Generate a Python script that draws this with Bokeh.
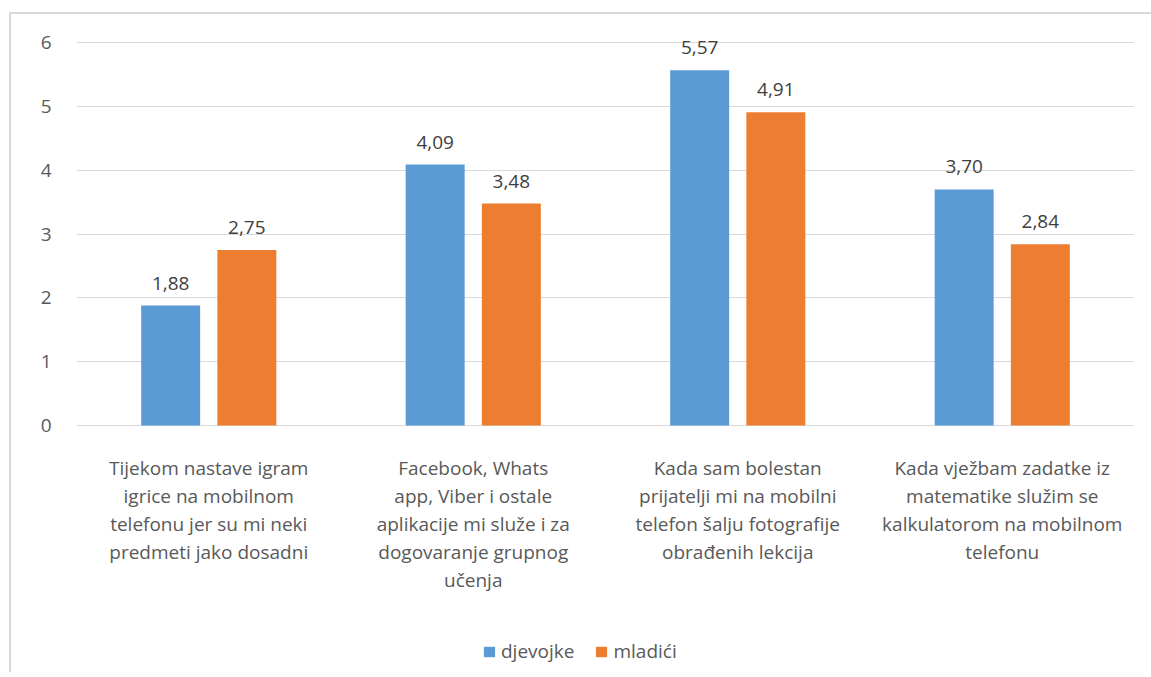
from bokeh.plotting import figure
from bokeh.models import ColumnDataSource, FactorRange, Legend, LegendItem
from bokeh.transform import dodge
from bokeh.core.properties import value
from bokeh.embed import file_html
from bokeh.resources import INLINE

categories = [
    "Tijekom nastave igram\nigrice na mobilnom\ntelefonu jer su mi neki\npredmeti jako dosadni",
    "Facebook, Whats\napp, Viber i ostale\naplikacije mi služe i za\ndogovaranje grupnog\nučenja",
    "Kada sam bolestan\nprijatelji mi na mobilni\ntelefon šalju fotografije\nobrađenih lekcija",
    "Kada vježbam zadatke iz\nmatematike služim se\nkalkulatorom na mobilnom\ntelefonu",
]
djevojke = [1.88, 4.09, 5.57, 3.70]
mladici = [2.75, 3.48, 4.91, 2.84]
series_names = ["djevojke", "mladići"]
y_ticks = [0, 1, 2, 3, 4, 5, 6]

def fmt(v):
    return f"{v:.2f}".replace(".", ",")

src = ColumnDataSource(dict(
    cat=categories,
    zero=[0] * len(categories),
    d=djevojke,
    m=mladici,
    dl=[fmt(v) for v in djevojke],
    ml=[fmt(v) for v in mladici],
))

FONT = "Open Sans"
TXT = "#595959"

p = figure(
    x_range=FactorRange(factors=categories, range_padding=0),
    y_range=(-3.87, 6.16),
    width=1140, height=658,
    frame_width=1058, frame_height=640,
    min_border_left=65, min_border_top=18, min_border_right=17, min_border_bottom=0,
    output_backend="svg", toolbar_location=None,
)
p.styles = {"border-left": "2px solid #d9d9d9", "border-top": "2px solid #d9d9d9",
            "margin-left": "9px", "margin-top": "12px"}
p.outline_line_color = None
p.background_fill_color = "white"

off = 0.144
w = 0.223
r1 = p.vbar(x=dodge("cat", -off, range=p.x_range), top="d", width=w, source=src,
            fill_color="#5B9BD5", line_color=None)
r2 = p.vbar(x=dodge("cat", off, range=p.x_range), top="m", width=w, source=src,
            fill_color="#ED7D31", line_color=None)

p.text(x=dodge("cat", -off, range=p.x_range), y="d", text="dl", source=src,
       text_align="center", text_baseline="bottom", y_offset=-16,
       text_font=value(FONT), text_font_size="19px", text_color="#404040")
p.text(x=dodge("cat", off, range=p.x_range), y="m", text="ml", source=src,
       text_align="center", text_baseline="bottom", y_offset=-16,
       text_font=value(FONT), text_font_size="19px", text_color="#404040")

# category labels below the baseline
p.text(x="cat", y="zero", text="cat", source=src,
       text_align="center", text_baseline="top", y_offset=29,
       text_font=value(FONT), text_font_size="19px", text_color=TXT,
       text_line_height=1.08)

p.xgrid.grid_line_color = None
p.ygrid.grid_line_color = "#d9d9d9"
p.ygrid.grid_line_width = 1
p.ygrid.ticker = y_ticks
p.yaxis.ticker = y_ticks
p.yaxis.axis_line_color = None
p.yaxis.major_tick_line_color = None
p.yaxis.minor_tick_line_color = None
p.yaxis.major_label_standoff = 19
p.yaxis.major_label_text_font = FONT
p.yaxis.major_label_text_font_size = "19px"
p.yaxis.major_label_text_color = TXT

p.xaxis.visible = False

legend = Legend(items=[LegendItem(label=series_names[0], renderers=[r1]),
                       LegendItem(label=series_names[1], renderers=[r2])],
                orientation="horizontal", location=(406, 8),
                glyph_width=14, glyph_height=13, spacing=20, label_standoff=5,
                label_text_font=FONT, label_text_font_size="19px", label_text_color=TXT,
                border_line_color=None, background_fill_alpha=0, margin=0, padding=4)
p.add_layout(legend, "center")

open("out.html", "w").write(file_html(p, INLINE))
